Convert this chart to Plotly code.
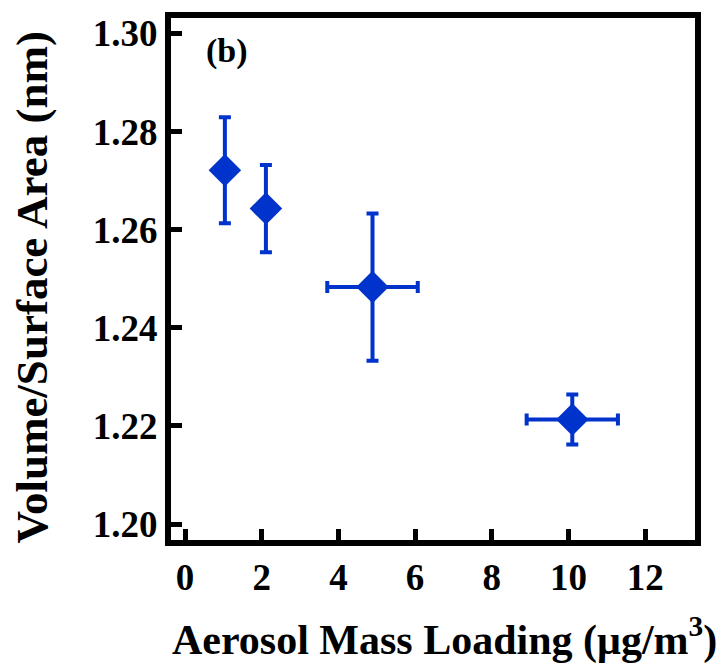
import plotly.graph_objects as go

# Aerosol mass loading (ug/m3) and the volume-to-surface-area ratio (nm)
mass_loading = [1.04, 2.11, 4.89, 10.10]
mass_loading_err = [0.0, 0.0, 1.18, 1.19]
vol_surface = [1.2721, 1.2643, 1.2483, 1.2213]
vol_surface_err = [0.0108, 0.0089, 0.0150, 0.0051]

x_ticks = [0, 2, 4, 6, 8, 10, 12]
x_tick_text = ["0", "2", "4", "6", "8", "10", "12"]
y_ticks = [1.20, 1.22, 1.24, 1.26, 1.28, 1.30]
y_tick_text = ["1.20", "1.22", "1.24", "1.26", "1.28", "1.30"]

x_title = "Aerosol Mass Loading (μg/m<sup>3</sup>)"
y_title = "Volume/Surface Area (nm)"

blue = "#0033CC"
font_family = "Liberation Serif"

fig = go.Figure(
    go.Scatter(
        x=mass_loading,
        y=vol_surface,
        mode="markers",
        marker=dict(symbol="diamond", size=25, color=blue, line=dict(width=0)),
        error_y=dict(type="data", array=vol_surface_err, color=blue,
                     thickness=4, width=6),
        error_x=dict(type="data", array=mass_loading_err, color=blue,
                     thickness=4, width=6),
        showlegend=False,
    )
)

axis_common = dict(
    showline=True,
    linecolor="black",
    linewidth=6,
    mirror=True,
    ticks="inside",
    ticklen=11,
    tickwidth=5,
    tickcolor="black",
    showgrid=False,
    zeroline=False,
    tickfont=dict(family=font_family, size=37, color="black", weight="bold"),
)

fig.update_xaxes(
    range=[-0.365, 13.3],
    tickvals=x_ticks,
    ticktext=[f"<b>{t}</b>" for t in x_tick_text],
    **axis_common,
)
fig.update_yaxes(
    range=[1.19675, 1.30315],
    tickvals=y_ticks,
    ticktext=[f"<b>{t}</b>" for t in y_tick_text],
    **axis_common,
)

# axis titles placed as paper-anchored text
fig.add_annotation(
    x=0.521, y=-0.185, xref="paper", yref="paper",
    xanchor="center", yanchor="middle",
    text=f"<b>{x_title}</b>", showarrow=False,
    font=dict(family=font_family, size=42, color="black"),
)
fig.add_annotation(
    x=-0.266, y=0.483, xref="paper", yref="paper",
    xanchor="center", yanchor="middle", textangle=-90,
    text=f"<b>{y_title}</b>", showarrow=False,
    font=dict(family=font_family, size=45, color="black"),
)

fig.add_annotation(
    x=1.1, y=1.2965, xref="x", yref="y",
    text="<b>(b)</b>", showarrow=False,
    font=dict(family=font_family, size=34, color="black"),
)

fig.update_layout(
    width=725,
    height=671,
    margin=dict(l=171, r=30, t=16, b=131),
    paper_bgcolor="white",
    plot_bgcolor="white",
    font=dict(family=font_family, color="black"),
)

fig.write_html("out.html")
